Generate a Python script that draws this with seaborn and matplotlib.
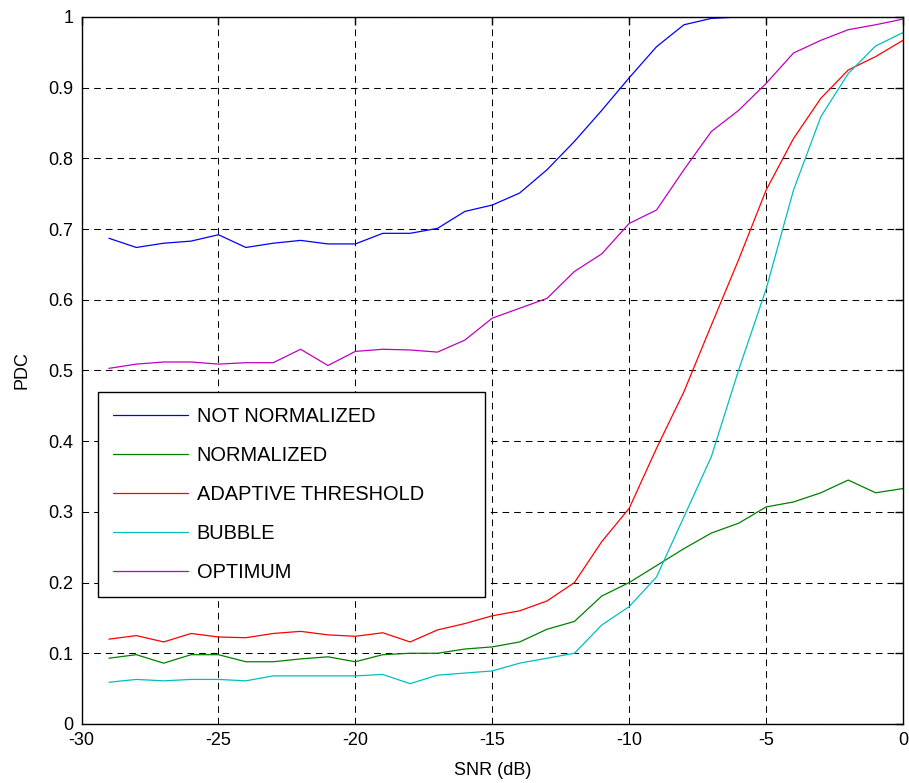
import numpy as np
import pandas as pd
import matplotlib
matplotlib.use("Agg")
import matplotlib.pyplot as plt
import seaborn as sns
from matplotlib.ticker import FuncFormatter, MultipleLocator


# data (SNR in dB, probability of detection)

snr = list(range(-29, 1))

not_normalized = [0.687, 0.674, 0.680, 0.683, 0.692, 0.674, 0.680, 0.684, 0.679, 0.679,
                  0.694, 0.694, 0.701, 0.725, 0.734, 0.751, 0.784, 0.824, 0.868, 0.914,
                  0.958, 0.989, 0.998, 1.0, 1.0, 1.0, 1.0, 1.0, 1.0, 1.0]
normalized = [0.093, 0.098, 0.086, 0.098, 0.098, 0.088, 0.088, 0.092, 0.095, 0.088,
              0.098, 0.100, 0.100, 0.106, 0.109, 0.116, 0.134, 0.145, 0.181, 0.200,
              0.224, 0.248, 0.270, 0.284, 0.307, 0.314, 0.327, 0.345, 0.327, 0.333]
adaptive = [0.120, 0.125, 0.116, 0.128, 0.123, 0.122, 0.128, 0.131, 0.126, 0.124,
            0.129, 0.116, 0.133, 0.142, 0.153, 0.160, 0.174, 0.200, 0.258, 0.305,
            0.390, 0.470, 0.564, 0.657, 0.755, 0.828, 0.885, 0.925, 0.944, 0.967]
bubble = [0.059, 0.063, 0.061, 0.063, 0.063, 0.061, 0.068, 0.068, 0.068, 0.068,
          0.070, 0.057, 0.069, 0.072, 0.075, 0.086, 0.093, 0.100, 0.140, 0.166,
          0.208, 0.293, 0.378, 0.501, 0.615, 0.755, 0.859, 0.920, 0.959, 0.978]
optimum = [0.503, 0.509, 0.512, 0.512, 0.509, 0.511, 0.511, 0.530, 0.507, 0.527,
           0.530, 0.529, 0.526, 0.543, 0.574, 0.588, 0.602, 0.640, 0.665, 0.708,
           0.727, 0.784, 0.838, 0.868, 0.906, 0.949, 0.967, 0.982, 0.989, 0.997]

labels = ["NOT NORMALIZED", "NORMALIZED", "ADAPTIVE THRESHOLD", "BUBBLE", "OPTIMUM"]
colors = ["#0000ff", "#008000", "#ff0000", "#00bfbf", "#bf00bf"]
series = [not_normalized, normalized, adaptive, bubble, optimum]


# style

sns.set_theme(style="white")
plt.rcParams["font.family"] = ["Liberation Sans", "DejaVu Sans"]
plt.rcParams["axes.unicode_minus"] = False
plt.rcParams["font.size"] = 13
plt.rcParams["text.color"] = "black"


# plot

fig = plt.figure(figsize=(9.09, 7.83), dpi=100)
ax = fig.add_axes([0.0897, 0.0754, 0.9037, 0.9029])

for vals, lab, col in zip(series, labels, colors):
    sns.lineplot(x=snr, y=vals, ax=ax, color=col, label=lab, linewidth=0.9)

ax.set_xlim(-30, 0)
ax.set_ylim(0, 1)
ax.xaxis.set_major_locator(MultipleLocator(5))
ax.yaxis.set_major_locator(MultipleLocator(0.1))
ax.yaxis.set_major_formatter(FuncFormatter(lambda v, p: f"{v:g}"))

ax.grid(True, color="black", linestyle=(0, (6.4, 4.8)), linewidth=0.75)
for s in ax.spines.values():
    s.set_color("black")
    s.set_linewidth(1.0)
ax.tick_params(direction="in", length=6, width=1, color="black",
               top=True, right=True, labelsize=13, pad=6, labelcolor="black")

ax.set_xlabel("SNR (dB)", fontsize=13, color="black", labelpad=9)
ax.set_ylabel("PDC", fontsize=13, color="black", labelpad=13)

leg = ax.legend(loc="lower left", bbox_to_anchor=(0.0203, 0.180, 0.4705, 0.285),
                mode="expand", fontsize=14.4, frameon=True, fancybox=False,
                edgecolor="black", framealpha=1, handlelength=3.78,
                handletextpad=0.42, labelspacing=1.01, borderpad=0.72,
                borderaxespad=0)
leg.get_frame().set_linewidth(1.0)
for t in leg.get_texts():
    t.set_color("black")

plt.savefig("out.png", dpi=100)
plt.close()
